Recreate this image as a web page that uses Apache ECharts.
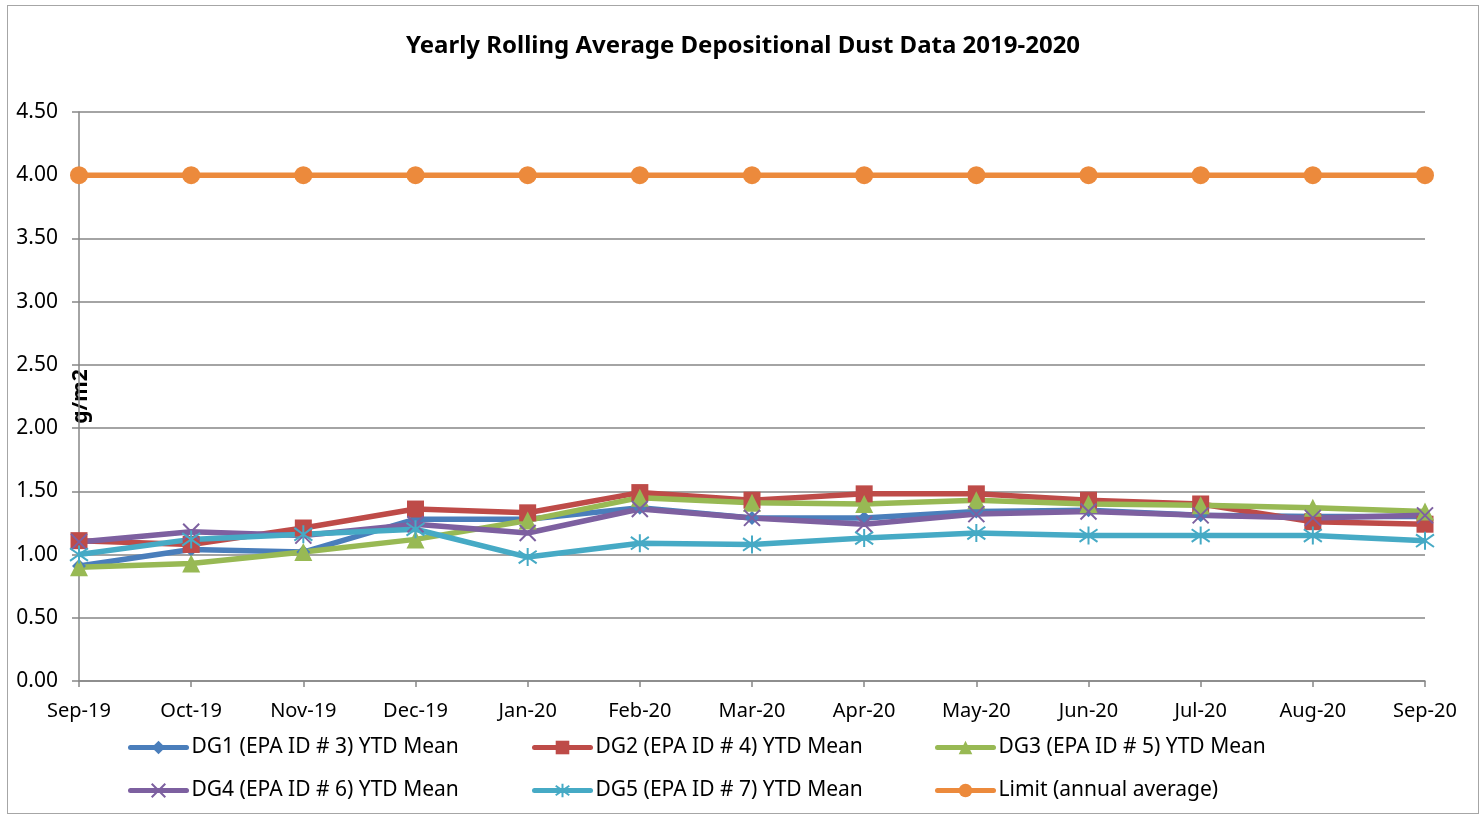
<!DOCTYPE html>
<html>
<head>
<meta charset="utf-8">
<script src="https://cdn.jsdelivr.net/npm/echarts@6/dist/echarts.min.js"></script>
<style>
  html, body { margin: 0; padding: 0; background: #fff; }
  #chart { position: absolute; left: 7px; top: 5px; width: 1472px; height: 809px; border: 1px solid #a6a6a6; box-sizing: border-box; }
</style>
</head>
<body>
<div id="chart"></div>
<script>
// months on the x axis
var months = ['Sep-19', 'Oct-19', 'Nov-19', 'Dec-19', 'Jan-20', 'Feb-20', 'Mar-20',
              'Apr-20', 'May-20', 'Jun-20', 'Jul-20', 'Aug-20', 'Sep-20'];

// YTD means, g/m2
var dg1 = [0.91, 1.04, 1.02, 1.28, 1.28, 1.37, 1.29, 1.29, 1.34, 1.35, 1.31, 1.30, 1.30];
var dg2 = [1.11, 1.08, 1.21, 1.36, 1.33, 1.49, 1.43, 1.48, 1.48, 1.43, 1.40, 1.26, 1.24];
var dg3 = [0.90, 0.93, 1.02, 1.12, 1.27, 1.45, 1.41, 1.40, 1.43, 1.40, 1.39, 1.37, 1.34];
var dg4 = [1.10, 1.18, 1.15, 1.24, 1.17, 1.36, 1.29, 1.24, 1.32, 1.34, 1.31, 1.29, 1.31];
var dg5 = [1.00, 1.12, 1.16, 1.20, 0.98, 1.09, 1.08, 1.13, 1.17, 1.15, 1.15, 1.15, 1.11];
var limit = [4.00, 4.00, 4.00, 4.00, 4.00, 4.00, 4.00, 4.00, 4.00, 4.00, 4.00, 4.00, 4.00];

var names = ['DG1 (EPA ID # 3) YTD Mean', 'DG2 (EPA ID # 4) YTD Mean', 'DG3 (EPA ID # 5) YTD Mean',
             'DG4 (EPA ID # 6) YTD Mean', 'DG5 (EPA ID # 7) YTD Mean', 'Limit (annual average)'];

var font = 'Noto Sans';
var crossPath = 'path://M0,0 L10,10 M10,0 L0,10';
var starPath = 'path://M5,0 L5,10 M0,1.5 L10,8.5 M10,1.5 L0,8.5';

function lineSeries(name, data, color, symbol, size, stroke) {
    return {
        name: name,
        type: 'line',
        data: data,
        symbol: symbol,
        symbolSize: size,
        lineStyle: { color: color, width: 5.5 },
        itemStyle: stroke
            ? { color: 'rgba(0,0,0,0)', borderColor: color, borderWidth: 2 }
            : { color: color },
        emphasis: { disabled: true },
        z: 2
    };
}

// one legend per item so the three columns line up
var legendLeft = [115, 519, 922];
var legendTop = [726, 769];
var legends = names.map(function (n, i) {
    return {
        data: [n],
        left: legendLeft[i % 3],
        top: legendTop[Math.floor(i / 3)],
        itemWidth: 56,
        itemHeight: 17,
        itemGap: 0,
        lineStyle: { width: 5, cap: 'round' },
        textStyle: { fontFamily: font, fontSize: 21, color: '#000' },
        selectedMode: false
    };
});

var myChart = echarts.init(document.getElementById('chart'));
var option = {
    animation: false,
    title: {
        text: 'Yearly Rolling Average Depositional Dust Data 2019-2020',
        left: 'center',
        top: 23,
        textStyle: { fontFamily: font, fontSize: 24, fontWeight: 'bold', color: '#000' }
    },
    legend: legends,
    grid: { left: 71, right: 53, top: 106, bottom: 132, outerBoundsMode: 'none' },
    xAxis: {
        type: 'category',
        data: months,
        boundaryGap: false,
        axisLine: { lineStyle: { color: '#868686', width: 1.5 } },
        axisTick: { show: true, length: 6, lineStyle: { color: '#868686', width: 1.5 } },
        axisLabel: { fontFamily: font, fontSize: 20, color: '#000', margin: 20 }
    },
    yAxis: {
        type: 'value',
        min: 0,
        max: 4.5,
        interval: 0.5,
        name: 'g/m2',
        nameLocation: 'middle',
        nameRotate: 90,
        nameGap: -13,
        nameMoveOverlap: false,
        nameTextStyle: { fontFamily: font, fontSize: 21, fontWeight: 'bold', color: '#000' },
        axisLine: { show: true, lineStyle: { color: '#868686', width: 1.5 } },
        axisTick: { show: true, inside: false, length: 7, lineStyle: { color: '#868686', width: 1.5 } },
        splitLine: { lineStyle: { color: '#868686', width: 1.5 } },
        axisLabel: {
            fontFamily: font, fontSize: 21, color: '#000', margin: 21,
            formatter: function (v) { return v.toFixed(2); }
        }
    },
    series: [
        lineSeries(names[0], dg1, '#4A7EBB', 'diamond', 14),
        lineSeries(names[1], dg2, '#BE4B48', 'rect', 17),
        lineSeries(names[2], dg3, '#98B954', 'triangle', 18),
        lineSeries(names[3], dg4, '#7D60A0', crossPath, 16, true),
        lineSeries(names[4], dg5, '#46AAC5', starPath, 18, true),
        lineSeries(names[5], limit, '#EC8A3C', 'circle', 18)
    ]
};
myChart.setOption(option);
</script>
</body>
</html>
